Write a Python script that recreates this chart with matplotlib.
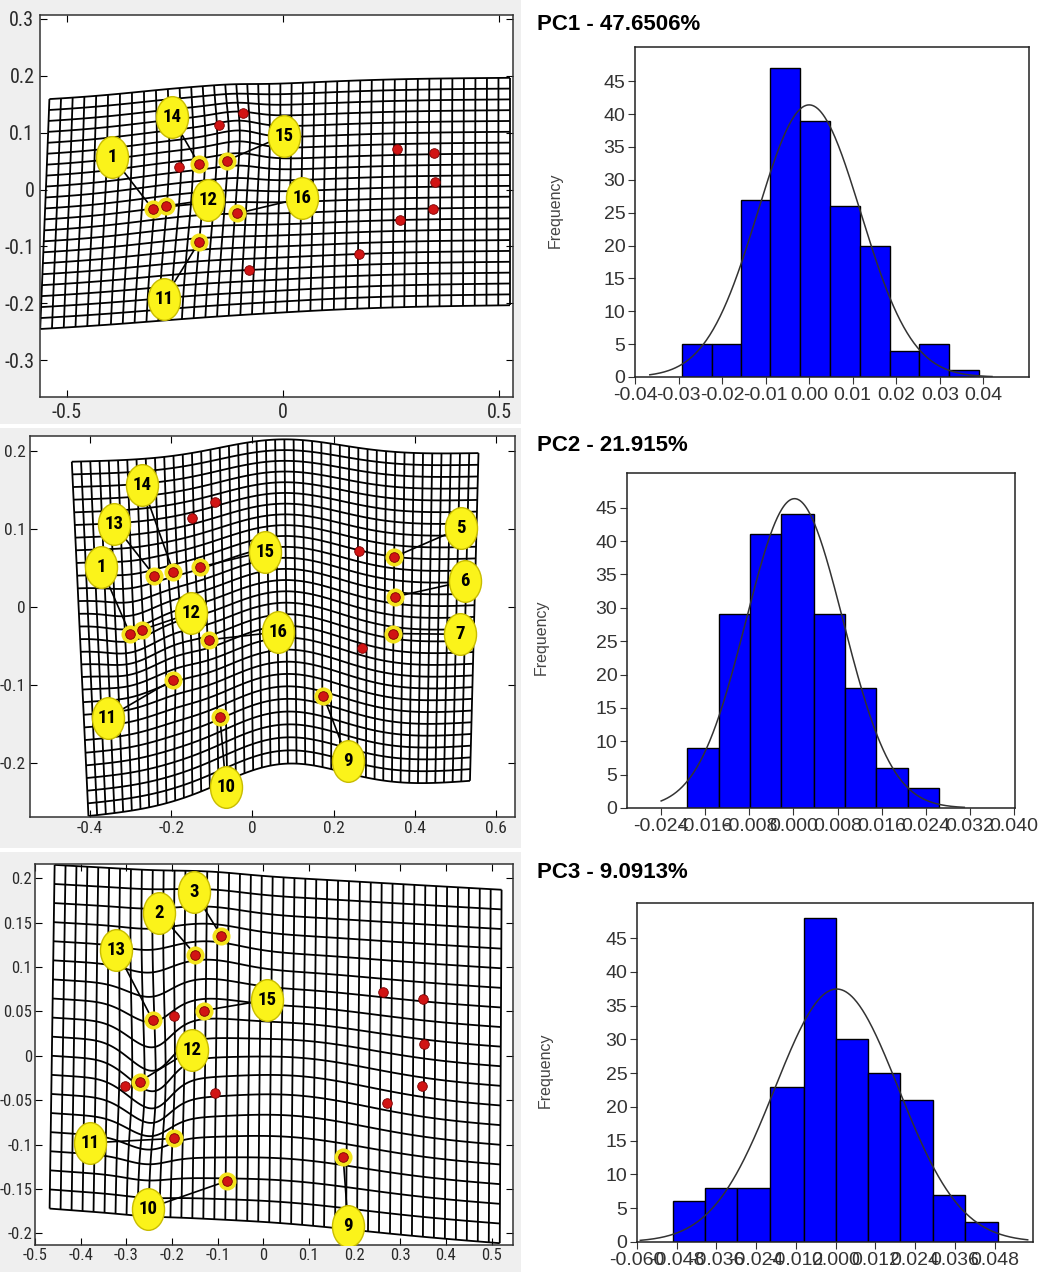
import numpy as np
import matplotlib
matplotlib.use("Agg")
import matplotlib.pyplot as plt
from matplotlib.collections import LineCollection
from matplotlib.path import Path
from matplotlib.patches import Rectangle
from matplotlib import font_manager

# ---- landmark configuration (consensus shape, shared by the three grids) ----
landmark_id = [1, 2, 3, 4, 5, 6, 7, 8, 9, 10, 11, 12, 13, 14, 15, 16]
landmark_x = [-0.302, -0.149, -0.092, 0.263, 0.349, 0.351, 0.347, 0.270,
              0.175, -0.080, -0.195, -0.271, -0.242, -0.195, -0.130, -0.106]
landmark_y = [-0.034, 0.114, 0.135, 0.072, 0.064, 0.013, -0.034, -0.053,
              -0.114, -0.141, -0.093, -0.029, 0.040, 0.045, 0.051, -0.042]

# labelled landmarks for each PC grid
pc1_labels = [1, 14, 15, 12, 16, 11]
pc2_labels = [14, 13, 1, 15, 12, 16, 11, 10, 9, 5, 6, 7]
pc3_labels = [3, 2, 13, 15, 12, 11, 10, 9]

# ---- histograms of PC scores ----
pc1_bin_edges = [-0.0293, -0.0224, -0.0157, -0.0090, -0.0020, 0.0048,
                 0.0117, 0.0186, 0.0253, 0.0322, 0.0391]
pc1_counts = [5, 5, 27, 47, 39, 26, 20, 4, 5, 1]
pc1_mean, pc1_sd = 0.0, 0.0118

pc2_bin_edges = [-0.0193, -0.0135, -0.0079, -0.0022, 0.0037, 0.0093,
                 0.0150, 0.0207, 0.0264]
pc2_counts = [9, 29, 41, 44, 29, 18, 6, 3]
pc2_mean, pc2_sd = 0.0002, 0.0088

pc3_bin_edges = [-0.0491, -0.0394, -0.0298, -0.0199, -0.0096, 0.0000,
                 0.0098, 0.0195, 0.0294, 0.0392, 0.0490]
pc3_counts = [6, 8, 8, 23, 48, 30, 25, 21, 7, 3]
pc3_mean, pc3_sd = 0.0003, 0.0187

pc1_xticks = [-0.04, -0.03, -0.02, -0.01, 0.0, 0.01, 0.02, 0.03, 0.04]
pc2_xticks = [-0.024, -0.016, -0.008, 0.0, 0.008, 0.016, 0.024, 0.032, 0.040]
pc3_xticks = [-0.060, -0.048, -0.036, -0.024, -0.012, 0.0, 0.012, 0.024, 0.036, 0.048]
freq_ticks = [0, 5, 10, 15, 20, 25, 30, 35, 40, 45]

titles = ["PC1 - 47.6506%", "PC2 - 21.915%", "PC3 - 9.0913%"]

W, H = 1044, 1278


def pick_font(names):
    for n in names:
        try:
            font_manager.findfont(n, fallback_to_default=False)
            return n
        except ValueError:
            pass
    return "DejaVu Sans"


NARROW = pick_font(["Liberation Sans Narrow", "Roboto Condensed", "DejaVu Sans"])
ARIAL = pick_font(["Liberation Sans", "Arial", "DejaVu Sans"])


def box(l, t, r, b):
    return [l / W, 1 - b / H, (r - l) / W, (b - t) / H]


def warp(u, v, corners, bumps):
    tl, tr, bl, br = [np.array(c, dtype=float) for c in corners]
    x = (1 - u) * (1 - v) * tl[0] + u * (1 - v) * tr[0] + (1 - u) * v * bl[0] + u * v * br[0]
    y = (1 - u) * (1 - v) * tl[1] + u * (1 - v) * tr[1] + (1 - u) * v * bl[1] + u * v * br[1]
    x0, y0 = x.copy(), y.copy()
    for cx, cy, dx, dy, sx, sy in bumps:
        g = np.exp(-0.5 * ((x0 - cx) / sx) ** 2 - 0.5 * ((y0 - cy) / sy) ** 2)
        x = x + dx * g
        y = y + dy * g
    return x, y


def draw_grid(ax, corners, ncol, nrow, bumps):
    t = np.linspace(0, 1, 300)
    segs = []
    for v in np.linspace(0, 1, nrow + 1):
        x, y = warp(t, np.full_like(t, v), corners, bumps)
        segs.append(np.column_stack([x, y]))
    for u in np.linspace(0, 1, ncol + 1):
        x, y = warp(np.full_like(t, u), t, corners, bumps)
        segs.append(np.column_stack([x, y]))
    ax.add_collection(LineCollection(segs, colors="black", linewidths=1.3, zorder=1))


circ = Path.unit_circle()
bubble = Path(circ.vertices * np.array([1.0, 1.3]), circ.codes)


def draw_panel(ax, xlim, ylim, xticks, yticks, grid, labels, label_pos, tick_size=12.5, pad=4):
    ax.set_xlim(xlim)
    ax.set_ylim(ylim)
    draw_grid(ax, *grid)
    lx = np.array(landmark_x)
    ly = np.array(landmark_y)
    hi = np.isin(landmark_id, labels)
    ax.scatter(lx[hi], ly[hi], s=170, color="#f4e41c", linewidths=0, zorder=3)
    ax.scatter(lx, ly, s=48, color="#d11414", edgecolors="#7a0000", linewidths=0.6, zorder=4)
    bx = [p[0] for p in label_pos]
    by = [p[1] for p in label_pos]
    for lab, x, y in zip(labels, bx, by):
        i = landmark_id.index(lab)
        ax.plot([x, lx[i]], [y, ly[i]], color="black", lw=1.2, zorder=2.5)
    ax.scatter(bx, by, marker=bubble, s=900, color="#fbf31a", edgecolors="#c8bc00",
               linewidths=1, zorder=5)
    for lab, x, y in zip(labels, bx, by):
        ax.text(x, y, str(lab), ha="center", va="center", fontsize=13.5, fontweight="bold",
                family=NARROW, zorder=6)
    ax.set_xticks(xticks)
    ax.set_yticks(yticks)
    ax.set_xticklabels(["%g" % round(t, 3) for t in xticks])
    ax.set_yticklabels(["%g" % round(t, 3) for t in yticks])
    ax.tick_params(direction="in", top=True, right=True, length=5, labelsize=tick_size,
                   labelcolor="#2a2a2a", labelfontfamily=NARROW, pad=pad)
    for s in ax.spines.values():
        s.set_color("#333333")
        s.set_linewidth(1.1)


def draw_hist(ax, edges, counts, mean, sd, xlim, xticks, fmt, curve_range):
    edges = np.asarray(edges)
    ax.bar(edges[:-1], counts, width=np.diff(edges), align="edge", color="#0000ff",
           edgecolor="black", linewidth=1, zorder=2)
    n = np.sum(counts)
    w = np.mean(np.diff(edges))
    xs = np.linspace(curve_range[0], curve_range[1], 400)
    ys = n * w * np.exp(-0.5 * ((xs - mean) / sd) ** 2) / (sd * np.sqrt(2 * np.pi))
    ax.plot(xs, ys, color="#333333", lw=1.1, zorder=3)
    ax.set_xlim(xlim)
    ax.set_ylim(0, 50.2)
    ax.set_yticks(freq_ticks)
    ax.set_xticks(xticks)
    ax.set_xticklabels([fmt % t for t in xticks])
    ax.tick_params(direction="out", length=5, labelsize=14, labelcolor="#333333",
                   colors="#333333", labelfontfamily=ARIAL, pad=2)
    for s in ax.spines.values():
        s.set_color("#222222")
        s.set_linewidth(1.1)


fig = plt.figure(figsize=(W / 100, H / 100), dpi=100)

# grey MATLAB-style backgrounds behind the grids
for t, b in [(0, 424), (428, 848), (852, 1272)]:
    fig.patches.append(Rectangle((0, 1 - b / H), 521 / W, (b - t) / H, transform=fig.transFigure,
                                 facecolor="#efefef", edgecolor="none", zorder=-10))

# ---- PC1 grid ----
ax1 = fig.add_axes(box(40, 15, 513, 397))
draw_panel(ax1, (-0.5625, 0.532), (-0.365, 0.307), [-0.5, 0, 0.5],
           [0.3, 0.2, 0.1, 0, -0.1, -0.2, -0.3],
           ([(-0.541, 0.157), (0.525, 0.189), (-0.562, -0.247), (0.525, -0.211)], 40, 21,
            [(0.15, 0.0, 0.0, 0.014, 0.35, 0.6),
             (-0.22, 0.02, 0.018, 0.012, 0.12, 0.12),
             (-0.12, 0.07, 0.006, 0.012, 0.05, 0.05)]),
           pc1_labels,
           [(-0.395, 0.057), (-0.258, 0.128), (0.003, 0.095), (-0.173, -0.018),
            (0.043, -0.015), (-0.275, -0.192)], tick_size=14.5)

# ---- PC2 grid ----
ax2 = fig.add_axes(box(30, 436, 515, 817))
draw_panel(ax2, (-0.548, 0.647), (-0.269, 0.219), [-0.4, -0.2, 0, 0.2, 0.4, 0.6],
           [0.2, 0.1, 0, -0.1, -0.2],
           ([(-0.445, 0.186), (0.557, 0.197), (-0.404, -0.268), (0.536, -0.223)], 44, 28,
            [(0.07, -0.12, 0.0, 0.05, 0.15, 0.25),
             (-0.2, -0.09, 0.01, 0.01, 0.06, 0.06),
             (-0.3, -0.03, 0.0, -0.01, 0.05, 0.05)]),
           pc2_labels,
           [(-0.271, 0.156), (-0.341, 0.106), (-0.373, 0.051), (0.030, 0.071),
            (-0.152, -0.008), (0.064, -0.032), (-0.357, -0.142), (-0.065, -0.231),
            (0.236, -0.197), (0.513, 0.101), (0.524, 0.033), (0.512, -0.035)], pad=3)

# ---- PC3 grid ----
ax3 = fig.add_axes(box(35, 864, 513, 1245))
draw_panel(ax3, (-0.497, 0.547), (-0.213, 0.216),
           [-0.5, -0.4, -0.3, -0.2, -0.1, 0, 0.1, 0.2, 0.3, 0.4, 0.5],
           [0.2, 0.15, 0.1, 0.05, 0, -0.05, -0.1, -0.15, -0.2],
           ([(-0.457, 0.215), (0.522, 0.187), (-0.468, -0.172), (0.518, -0.211)], 41, 18,
            [(-0.255, -0.005, 0.012, -0.035, 0.045, 0.065),
             (0.07, -0.05, 0.0, 0.018, 0.16, 0.08),
             (-0.12, 0.1, 0.0, 0.010, 0.07, 0.06)]),
           pc3_labels,
           [(-0.151, 0.184), (-0.228, 0.161), (-0.322, 0.119), (0.009, 0.063),
            (-0.157, 0.007), (-0.379, -0.098), (-0.253, -0.172), (0.186, -0.192)],
           tick_size=12, pad=2)

# ---- histograms ----
h1 = fig.add_axes(box(635, 47, 1029, 377))
draw_hist(h1, pc1_bin_edges, pc1_counts, pc1_mean, pc1_sd, (-0.04, 0.0505), pc1_xticks,
          "%.2f", (-0.0366, 0.042))
h2 = fig.add_axes(box(627, 473, 1015, 808))
draw_hist(h2, pc2_bin_edges, pc2_counts, pc2_mean, pc2_sd, (-0.0302, 0.0402), pc2_xticks,
          "%.3f", (-0.024, 0.031))
h3 = fig.add_axes(box(637, 903, 1033, 1242))
draw_hist(h3, pc3_bin_edges, pc3_counts, pc3_mean, pc3_sd, (-0.060, 0.0596), pc3_xticks,
          "%.3f", (-0.059, 0.058))

for title, ty in zip(titles, [24, 446, 873]):
    fig.text(537 / W, 1 - ty / H, title, fontsize=16, fontweight="bold", va="center",
             ha="left", family=ARIAL)
for fx, fy in [(555, 210), (541, 637), (545, 1070)]:
    fig.text(fx / W, 1 - fy / H, "Frequency", rotation=90, va="center", ha="center",
             fontsize=11.5, color="#444444", family=ARIAL)

fig.savefig("out.png", dpi=100)
